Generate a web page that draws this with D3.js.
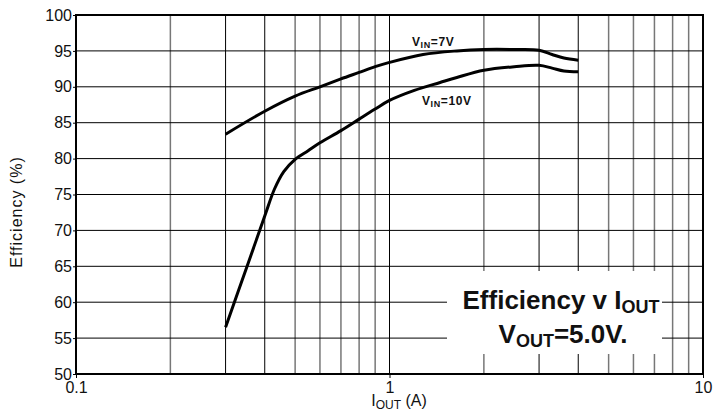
<!DOCTYPE html>
<html>
<head>
<meta charset="utf-8">
<script src="https://cdn.jsdelivr.net/npm/d3@7"></script>
<style>
  body { margin: 0; background: #fff; }
  text { font-family: "Liberation Sans", Arial, sans-serif; fill: #111; }
</style>
</head>
<body>
<div id="chart"></div>
<script>
// current values (A)
const iout7 = [0.3, 0.4, 0.5, 0.6, 0.7, 0.8, 0.9, 1.0, 1.28, 1.64, 2.0, 2.5, 3.0, 3.3, 3.6, 4.0];
const eff7 = [83.4, 86.6, 88.7, 90.0, 91.1, 92.0, 92.8, 93.4, 94.5, 95.0, 95.2, 95.2, 95.1, 94.5, 94.0, 93.7];

const iout10 = [0.3, 0.35, 0.4, 0.43, 0.46, 0.5, 0.55, 0.6, 0.7, 0.8, 0.9, 1.0, 1.2, 1.45, 1.64, 2.0, 2.5, 3.0, 3.3, 3.6, 4.0];
const eff10 = [56.5, 64.8, 72.0, 75.8, 78.2, 79.9, 81.1, 82.2, 83.9, 85.5, 86.9, 88.1, 89.5, 90.6, 91.3, 92.3, 92.8, 93.0, 92.6, 92.2, 92.1];

const xTickLabels = [0.1, 1, 10];
const yTicks = [50, 55, 60, 65, 70, 75, 80, 85, 90, 95, 100];
// minor vertical grid lines drawn black in the original
const darkGrid = [0.3, 0.4, 1, 3, 4];

const margin = { top: 15, right: 14, bottom: 39, left: 76 },
      width = 717 - margin.left - margin.right,
      height = 413 - margin.top - margin.bottom;

const root = d3.select("#chart")
    .append("svg")
    .attr("width", 717)
    .attr("height", 413);

const svg = root.append("g")
    .attr("transform", `translate(${margin.left},${margin.top})`);

const x = d3.scaleLog().domain([0.1, 10]).range([0, width]);
const y = d3.scaleLinear().domain([50, 100]).range([height, 0]);

// vertical grid (2..9 per decade, plus 1)
const gridX = [];
[0.1, 1].forEach(dec => { for (let k = 2; k <= 9; k++) gridX.push(+(dec * k).toFixed(2)); });
gridX.push(1);

svg.selectAll(".vgrid")
    .data(gridX)
    .enter()
    .append("line")
    .attr("x1", d => x(d)).attr("x2", d => x(d))
    .attr("y1", 0).attr("y2", height)
    .attr("stroke", d => darkGrid.includes(d) ? "#000" : "#777")
    .attr("stroke-width", d => darkGrid.includes(d) ? 1 : 1.5);

svg.selectAll(".hgrid")
    .data(yTicks.slice(1, -1))
    .enter()
    .append("line")
    .attr("x1", 0).attr("x2", width)
    .attr("y1", d => y(d)).attr("y2", d => y(d))
    .attr("stroke", "#000")
    .attr("stroke-width", 1);

// white label box over the grid
svg.append("rect")
    .attr("x", 447 - margin.left).attr("y", 271 - margin.top)
    .attr("width", 215).attr("height", 83)
    .attr("fill", "#fff");

// axes
svg.append("g")
    .attr("transform", `translate(0,${height})`)
    .call(d3.axisBottom(x).tickValues(xTickLabels).tickFormat(d3.format("")).tickSize(4).tickPadding(4))
    .call(g => g.select(".domain").remove())
    .selectAll("text")
    .style("font-size", "16px");

svg.append("g")
    .call(d3.axisLeft(y).tickValues(yTicks).tickSize(3).tickPadding(1))
    .call(g => g.select(".domain").remove())
    .selectAll("text")
    .style("font-size", "16px");

svg.selectAll(".tick line").attr("stroke", "#000");

// frame
svg.append("rect")
    .attr("width", width).attr("height", height)
    .attr("fill", "none")
    .attr("stroke", "#000")
    .attr("stroke-width", 2);

// curves
const line = d3.line()
    .x(d => x(d[0]))
    .y(d => y(d[1]))
    .curve(d3.curveCatmullRom.alpha(0.5));

[[iout7, eff7], [iout10, eff10]].forEach(([xs, ys]) => {
    svg.append("path")
        .datum(xs.map((v, i) => [v, ys[i]]))
        .attr("fill", "none")
        .attr("stroke", "#000")
        .attr("stroke-width", 3)
        .attr("stroke-linejoin", "round")
        .attr("d", line);
});

// helper for text with a subscript
function subText(g, px, py, parts, anchor, spacing) {
    const t = g.append("text")
        .attr("x", px).attr("y", py)
        .attr("text-anchor", anchor)
        .style("letter-spacing", spacing || "0px");
    parts.forEach(p => {
        t.append("tspan")
            .attr("dy", p.dy || 0)
            .style("font-size", p.size + "px")
            .style("font-weight", p.bold ? "bold" : "normal")
            .text(p.t);
    });
    return t;
}

subText(root, 412, 46, [
    { t: "V", size: 12, bold: true },
    { t: "IN", size: 9, bold: true, dy: 2 },
    { t: "=7V", size: 12, bold: true, dy: -2 }
], "start", "0.6px");

subText(root, 422, 105, [
    { t: "V", size: 12, bold: true },
    { t: "IN", size: 9, bold: true, dy: 2 },
    { t: "=10V", size: 12, bold: true, dy: -2 }
], "start", "0.6px");

subText(root, 561, 309, [
    { t: "Efficiency v I", size: 26, bold: true },
    { t: "OUT", size: 18, bold: true, dy: 4 }
], "middle");

subText(root, 563, 343, [
    { t: "V", size: 26, bold: true },
    { t: "OUT", size: 18, bold: true, dy: 4 },
    { t: "=5.0V.", size: 26, bold: true, dy: -4 }
], "middle");

// axis titles
subText(root, 399, 406, [
    { t: "I", size: 16 },
    { t: "OUT", size: 12, dy: 3 },
    { t: " (A)", size: 16, dy: -3 }
], "middle");

root.append("text")
    .attr("transform", "translate(22,212) rotate(-90)")
    .attr("text-anchor", "middle")
    .style("font-size", "16px")
    .style("letter-spacing", "1px")
    .text("Efficiency (%)");
</script>
</body>
</html>
